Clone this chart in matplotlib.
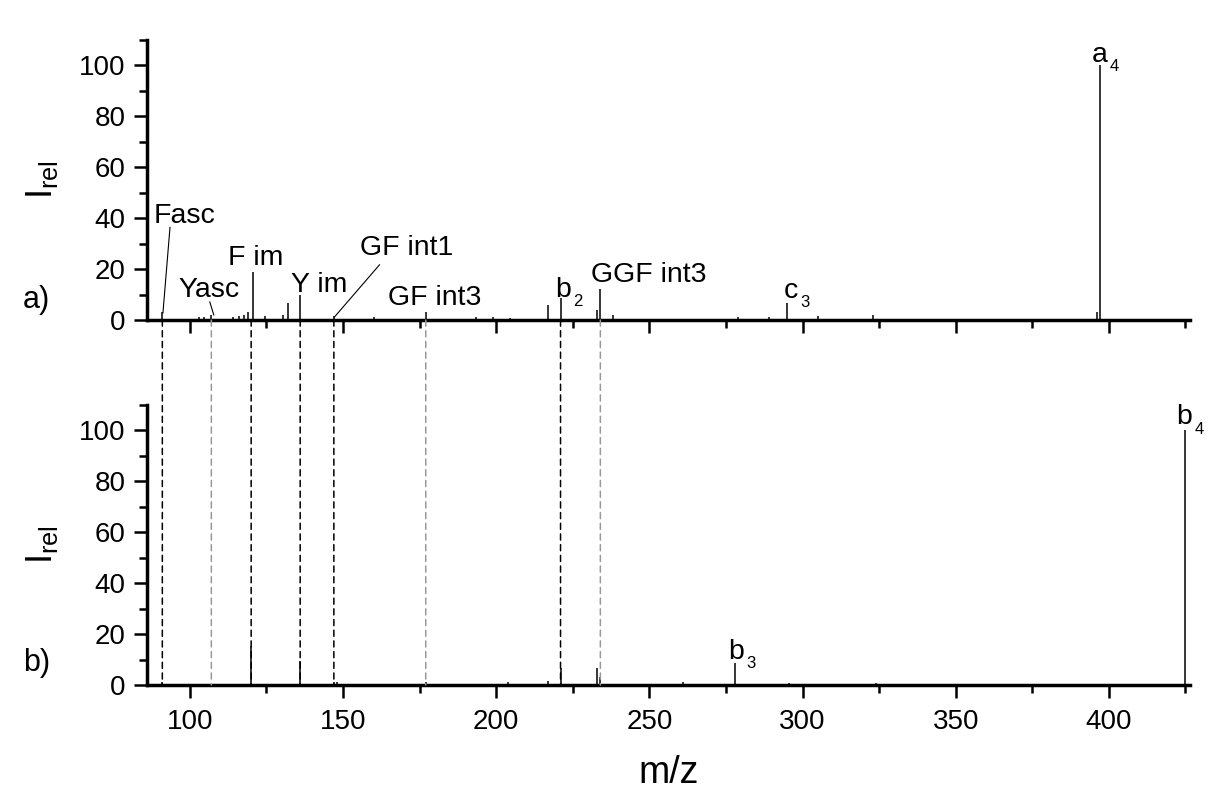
import matplotlib
matplotlib.use("Agg")
import matplotlib.pyplot as plt
from matplotlib.patches import ConnectionPatch
from matplotlib.ticker import MultipleLocator

plt.rcParams['font.family'] = ['Liberation Sans', 'DejaVu Sans']
plt.rcParams['mathtext.fontset'] = 'custom'
plt.rcParams['mathtext.rm'] = 'Liberation Sans'

# spectrum a)
mz_a = [91, 103, 104.5, 107, 114, 116, 117.5, 119, 120.5, 124.5, 130.5, 132, 136,
        147, 160, 177, 193.5, 199, 204.5, 217, 221, 233, 234, 238, 279, 280.5,
        289, 295, 305, 323, 396, 397]
int_a = [3, 1, 1, 2, 1, 1.5, 2, 3, 19, 1.5, 2, 6.7, 10,
         1.5, 1, 3.2, 1, 1, 0.7, 6, 8.5, 4, 12, 2, 1, 0.5,
         1, 6.7, 1.5, 2, 3, 100]

# spectrum b)
mz_b = [91, 107, 114, 119, 120, 136, 142, 147, 148, 177, 204, 217, 221, 233, 234,
        261, 278, 295.5, 306.5, 318, 324, 425]
int_b = [1, 0.5, 0.5, 0.5, 15.3, 9.5, 0.5, 1, 1, 1, 1, 1.5, 6.5, 6.5, 3,
         1, 8.6, 0.7, 0.5, 0.5, 0.7, 100]

# fragment assignments shared by both spectra
frag_mz = [91, 107, 120, 136, 147, 177, 221, 234]
frag_dark = [True, False, True, True, True, False, True, False]

# (label, subscript)
labels_a = [('Fasc', ''), ('Yasc', ''), ('F im', ''), ('Y im', ''), ('GF int1', ''),
            ('GF int3', ''), ('b', '2'), ('GGF int3', ''), ('c', '3'), ('a', '4')]
labels_b = [('b', '3'), ('b', '4')]

# label anchors (x, y baseline) and leader lines to the peaks
pos_a = [(88.3, 38.3), (96.4, 9.1), (112.6, 21.7), (133.0, 11.1), (155.4, 25.7),
         (164.8, 5.9), (219.4, 9.1), (231, 15.0), (293.8, 8.7), (394.3, 101.5)]
leaders_a = {0: ((93.5, 36.4), (91.2, 2.8)),
             1: ((106.5, 7.1), (107.8, 2.0)),
             4: ((161.9, 21.7), (147.2, 1.2))}
pos_b = [(275.8, 10.2), (422.0, 102.5)]

fig = plt.figure(figsize=(12.08, 8.09), dpi=100)
ax_a = fig.add_axes([0.1217, 0.6044, 0.8634, 0.3461])
ax_b = fig.add_axes([0.1217, 0.1533, 0.8634, 0.3461])

for ax, mz, inten in ((ax_a, mz_a, int_a), (ax_b, mz_b, int_b)):
    ax.vlines(mz, 0, inten, color='black', lw=1.1)
    ax.set_xlim(86, 426.5)
    ax.set_ylim(0, 110)
    for s in ('top', 'right'):
        ax.spines[s].set_visible(False)
    for s in ('left', 'bottom'):
        ax.spines[s].set_linewidth(2.5)
    ax.xaxis.set_major_locator(MultipleLocator(50))
    ax.xaxis.set_minor_locator(MultipleLocator(25))
    ax.yaxis.set_major_locator(MultipleLocator(20))
    ax.yaxis.set_minor_locator(MultipleLocator(10))
    ax.tick_params(which='major', length=9.5, width=1.8, labelsize=20)
    ax.tick_params(which='minor', length=5.5, width=1.8)
    ax.tick_params(axis='x', pad=8)
    ax.tick_params(axis='y', pad=6)
    ax.set_ylabel(r'$\mathregular{I_{rel}}$', fontsize=26)
    ax.yaxis.set_label_coords(-0.083, 0.5)

ax_a.tick_params(axis='x', labelbottom=False)
ax_b.set_xlabel('m/z', fontsize=27, labelpad=14)


def put_label(ax, x, y, text, sub):
    t = ax.text(x, y, text, fontsize=20.5, ha='left', va='baseline', clip_on=False)
    if sub:
        ax.annotate(sub, xy=(1, 0), xycoords=t, xytext=(1.5, -2.5),
                    textcoords='offset points', fontsize=12, ha='left', va='baseline')


for (text, sub), (x, y) in zip(labels_a, pos_a):
    put_label(ax_a, x, y, text, sub)
for i, (p0, p1) in leaders_a.items():
    ax_a.plot([p0[0], p1[0]], [p0[1], p1[1]], color='black', lw=0.8, clip_on=False)
for (text, sub), (x, y) in zip(labels_b, pos_b):
    put_label(ax_b, x, y, text, sub)

# dashed guides linking the assigned fragments between the two spectra
for x, dark in zip(frag_mz, frag_dark):
    con = ConnectionPatch(xyA=(x, 0), coordsA=ax_a.transData,
                          xyB=(x, 0), coordsB=ax_b.transData,
                          color='black' if dark else '#999999',
                          lw=1.1, linestyle=(0, (4, 3)))
    fig.add_artist(con)

fig.text(0.019, 0.619, 'a)', fontsize=22)
fig.text(0.019, 0.1706, 'b)', fontsize=22)

fig.savefig('out.png', dpi=100, facecolor='white')
